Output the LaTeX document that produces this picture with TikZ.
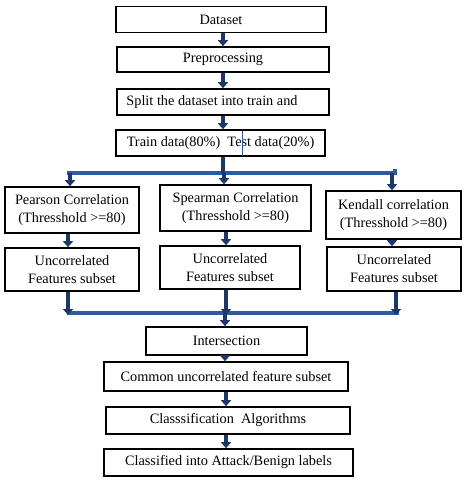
\documentclass[tikz,border=0pt]{standalone}
\usepackage{fontspec}
\setmainfont{Liberation Serif}
\usetikzlibrary{arrows.meta}
\definecolor{barblue}{RGB}{46,90,160}
\definecolor{arrblue}{RGB}{30,55,105}
\tikzset{
  box/.style={draw=black, line width=1.6pt, fill=white, align=center, inner sep=1pt,
    font=\fontsize{14.3}{18}\selectfont},
  arr/.style={draw=arrblue, line width=3.5pt, -{Triangle[width=10pt,length=6pt]}},
  bar/.style={draw=barblue, line width=4.5pt},
}
\begin{document}
\begin{tikzpicture}[x=1pt,y=-1pt]
\useasboundingbox (0,0) rectangle (466,480);
% top column
\node[box, minimum width=210pt, minimum height=26pt] (ds) at (221,19.5) {Dataset};
\node[box, minimum width=212pt, minimum height=25pt] (pre) at (223,59.5) {Preprocessing};
\node[box, minimum width=212pt, minimum height=26pt] (split) at (223,102) {\hspace*{-22pt}Split the dataset into train and};
\node[box, minimum width=209pt, minimum height=26pt] (tt) at (220.5,143) {Train data(80\%)\ \ Test data(20\%)};
\draw[barblue, line width=1pt] (242,130.5) -- (242,155.5);
\draw[arr] (ds.south -| 223,0) -- (pre.north -| 223,0);
\draw[arr] (pre.south -| 223,0) -- (split.north -| 223,0);
\draw[arr] (split.south -| 223,0) -- (tt.north -| 223,0);
% upper bar
\coordinate (b1L) at (67,173);
\coordinate (b1R) at (395,173);
\coordinate (b1c) at (223,173);
\coordinate (b1a) at (70,173);
\coordinate (b1b) at (224,173);
\coordinate (b1k) at (392,173);
\draw[bar] (b1L) -- (b1R) -- ([yshift=4pt]b1R);
\draw[arrblue, line width=3.5pt] (tt.south -| b1c) -- (b1c);
% correlation boxes
\node[box, minimum width=134pt, minimum height=46pt] (pe) at (72,210) {Pearson Correlation\\(Thresshold >=80)};
\node[box, minimum width=151pt, minimum height=46pt] (sp) at (235.5,208) {Spearman Correlation\\(Thresshold >=80)};
\node[box, minimum width=135pt, minimum height=48pt] (ke) at (393.5,215) {Kendall correlation\\(Thresshold >=80)};
\draw[arr] (b1a) -- (b1a |- pe.north);
\draw[arr] (b1b) -- (b1b |- sp.north);
\draw[arr] (b1k) -- (b1k |- ke.north);
% uncorrelated boxes
\node[box, minimum width=134pt, minimum height=43pt] (u1) at (72,269.5) {Uncorrelated\\Features subset};
\node[box, minimum width=140pt, minimum height=43pt] (u2) at (230,267.5) {Uncorrelated\\Features subset};
\node[box, minimum width=134pt, minimum height=44pt] (u3) at (394,269) {Uncorrelated\\Features subset};
\draw[arr] (pe.south -| 68,0) -- (u1.north -| 68,0);
\draw[arr] (sp.south -| 226,0) -- (u2.north -| 226,0);
\draw[arr] (ke.south -| 392,0) -- (u3.north -| 392,0);
% lower bar
\coordinate (b2L) at (67,313);
\coordinate (b2R) at (399,313);
\coordinate (b2a) at (68,313);
\coordinate (b2b) at (226,313);
\coordinate (b2k) at (396,313);
\coordinate (b2c) at (225,313);
\draw[bar] (b2L) -- (b2R);
\draw[arr] (u1.south -| b2a) -- ([yshift=-2pt]b2a);
\draw[arr] (u2.south -| b2b) -- ([yshift=-2pt]b2b);
\draw[arr] (u3.south -| b2k) -- ([yshift=-2pt]b2k);
% bottom column
\node[box, minimum width=161pt, minimum height=28pt] (in) at (226.5,341) {Intersection};
\node[box, minimum width=244pt, minimum height=29pt] (cu) at (226,376.5) {Common uncorrelated feature subset};
\node[box, minimum width=244pt, minimum height=27pt] (ca) at (228,420.5) {Classsification\ \ Algorithms};
\node[box, minimum width=249pt, minimum height=27pt] (cl) at (228.5,462.5) {Classified into Attack/Benign labels};
\draw[arr] ([yshift=2pt]b2c) -- (in.north -| b2c);
\draw[arr] (in.south -| 225,0) -- (cu.north -| 225,0);
\draw[arr] (cu.south -| 226,0) -- (ca.north -| 226,0);
\draw[arr] (ca.south -| 226,0) -- (cl.north -| 226,0);
\end{tikzpicture}
\end{document}
